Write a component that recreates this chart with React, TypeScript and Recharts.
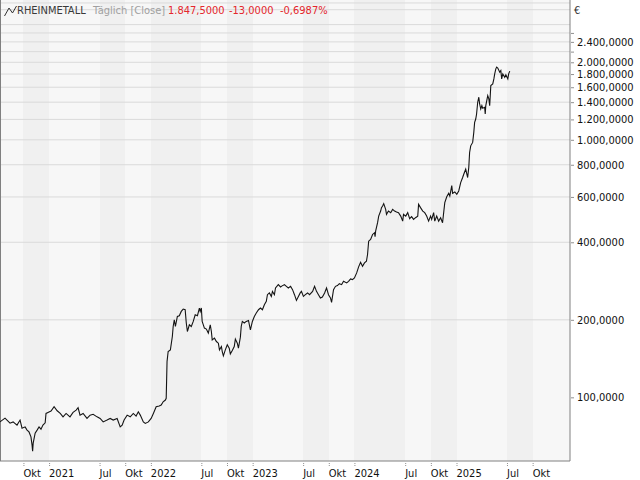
import React from 'react';
import { ComposedChart, Line, XAxis, YAxis, CartesianGrid, ReferenceLine } from 'recharts';

// ---- data ----
const dates: string[] = [
  '2020-07-09','2020-07-27','2020-08-14','2020-08-25','2020-09-08','2020-09-19','2020-09-26','2020-10-07','2020-10-14','2020-10-21',
  '2020-10-28','2020-11-01','2020-11-03','2020-11-05','2020-11-12','2020-11-19','2020-11-26','2020-12-03','2020-12-10','2020-12-18',
  '2020-12-21','2020-12-28','2021-01-08','2021-01-19','2021-01-30','2021-02-10','2021-02-20','2021-03-03','2021-03-17','2021-03-28',
  '2021-04-08','2021-04-15','2021-04-22','2021-05-03','2021-05-17','2021-05-28','2021-06-08','2021-06-22','2021-07-03','2021-07-14',
  '2021-07-28','2021-08-08','2021-08-19','2021-09-02','2021-09-13','2021-09-20','2021-09-27','2021-10-08','2021-10-19','2021-10-30',
  '2021-11-09','2021-11-17','2021-11-24','2021-12-05','2021-12-12','2021-12-23','2022-01-02','2022-01-10','2022-01-20','2022-01-31',
  '2022-02-07','2022-02-14','2022-02-22','2022-02-25','2022-02-28','2022-03-04','2022-03-12','2022-03-19','2022-03-22','2022-03-26',
  '2022-03-30','2022-04-06','2022-04-13','2022-04-20','2022-04-27','2022-05-04','2022-05-08','2022-05-12','2022-05-19','2022-05-26',
  '2022-06-02','2022-06-09','2022-06-17','2022-06-24','2022-06-27','2022-07-01','2022-07-04','2022-07-12','2022-07-19','2022-07-26',
  '2022-08-02','2022-08-06','2022-08-09','2022-08-17','2022-08-24','2022-08-31','2022-09-04','2022-09-11','2022-09-14','2022-09-18',
  '2022-09-25','2022-10-02','2022-10-09','2022-10-13','2022-10-20','2022-10-27','2022-10-31','2022-11-07','2022-11-11','2022-11-18',
  '2022-11-21','2022-11-25','2022-12-02','2022-12-09','2022-12-17','2022-12-24','2022-12-31','2023-01-07','2023-01-14','2023-01-22',
  '2023-01-29','2023-02-05','2023-02-12','2023-02-19','2023-02-23','2023-03-02','2023-03-09','2023-03-13','2023-03-20','2023-03-24',
  '2023-04-03','2023-04-11','2023-04-18','2023-04-25','2023-05-02','2023-05-09','2023-05-17','2023-05-24','2023-05-31','2023-06-07',
  '2023-06-14','2023-06-21','2023-06-25','2023-07-02','2023-07-09','2023-07-17','2023-07-24','2023-08-04','2023-08-11','2023-08-18',
  '2023-08-25','2023-09-01','2023-09-08','2023-09-16','2023-09-23','2023-09-30','2023-10-07','2023-10-11','2023-10-18','2023-10-25',
  '2023-11-01','2023-11-08','2023-11-16','2023-11-23','2023-12-04','2023-12-11','2023-12-18','2023-12-25','2024-01-01','2024-01-09',
  '2024-01-16','2024-01-23','2024-01-30','2024-02-06','2024-02-13','2024-02-17','2024-02-21','2024-02-28','2024-03-06','2024-03-13',
  '2024-03-15','2024-03-17','2024-03-24','2024-03-28','2024-04-04','2024-04-07','2024-04-11','2024-04-15','2024-04-22','2024-04-25',
  '2024-05-02','2024-05-10','2024-05-17','2024-05-24','2024-05-31','2024-06-07','2024-06-15','2024-06-22','2024-06-25','2024-07-03',
  '2024-07-10','2024-07-17','2024-07-24','2024-07-31','2024-08-07','2024-08-15','2024-08-18','2024-08-25','2024-09-02','2024-09-09',
  '2024-09-16','2024-09-23','2024-09-30','2024-10-04','2024-10-11','2024-10-15','2024-10-22','2024-10-29','2024-11-05','2024-11-12',
  '2024-11-16','2024-11-20','2024-11-27','2024-12-04','2024-12-08','2024-12-15','2024-12-18','2024-12-26','2025-01-02','2025-01-09',
  '2025-01-16','2025-01-23','2025-01-27','2025-02-03','2025-02-10','2025-02-14','2025-02-17','2025-02-21','2025-02-28','2025-03-04',
  '2025-03-07','2025-03-11','2025-03-14','2025-03-18','2025-03-22','2025-03-25','2025-03-29','2025-04-02','2025-04-05','2025-04-12',
  '2025-04-14','2025-04-16','2025-04-23','2025-04-27','2025-04-30','2025-05-04','2025-05-11','2025-05-15','2025-05-18','2025-05-22',
  '2025-05-25','2025-05-29','2025-06-05','2025-06-09','2025-06-12','2025-06-16','2025-06-23','2025-06-27','2025-07-04','2025-07-07',
  '2025-07-11',
];

const closes: number[] = [
  80.3, 83.0, 79.4, 80.3, 78.0, 81.6, 75.9, 76.8, 74.6, 73.4,
  70.2, 65.2, 61.8, 66.4, 72.6, 74.6, 76.8, 75.2, 78.0, 79.6,
  86.6, 87.4, 88.4, 91.9, 88.7, 86.6, 84.0, 86.6, 84.0, 87.4,
  89.2, 91.1, 85.3, 86.6, 82.8, 85.3, 85.9, 84.0, 82.8, 80.3,
  81.6, 82.8, 81.6, 82.8, 76.8, 78.0, 81.6, 85.3, 84.0, 86.6,
  84.6, 87.9, 85.3, 80.3, 79.2, 80.3, 82.8, 86.6, 91.9, 92.5,
  93.3, 96.1, 97.6, 99.1, 137.6, 150.6, 152.9, 172.3, 188.4, 200.1,
  188.4, 206.1, 207.4, 215.6, 220.2, 218.9, 194.3, 180.2, 191.3, 188.4,
  197.1, 209.3, 207.4, 222.2, 215.6, 222.2, 197.1, 185.7, 184.1, 177.6,
  191.3, 180.2, 167.2, 169.8, 164.7, 162.3, 152.9, 157.5, 150.6, 144.9,
  152.9, 159.9, 155.2, 147.5, 151.9, 157.5, 168.3, 162.3, 155.2, 171.3,
  188.4, 197.1, 194.3, 197.1, 198.8, 182.9, 197.1, 206.1, 212.5, 218.9,
  222.2, 218.9, 228.9, 235.8, 250.4, 254.3, 246.6, 257.9, 250.4, 265.9,
  273.9, 268.3, 271.5, 273.9, 269.8, 265.9, 269.8, 261.9, 250.4, 237.9,
  246.6, 255.0, 257.9, 246.6, 250.4, 254.3, 250.4, 257.9, 269.8, 257.9,
  250.4, 243.1, 245.3, 254.3, 265.9, 250.4, 243.1, 233.7, 261.9, 269.8,
  271.5, 276.4, 273.9, 282.2, 278.1, 282.2, 288.3, 286.5, 290.9, 304.2,
  321.1, 334.6, 322.8, 332.8, 337.6, 358.6, 404.0, 410.2, 429.0, 435.6,
  420.3, 441.9, 476.5, 505.6, 528.8, 545.2, 553.1, 565.1, 536.9, 513.4,
  528.8, 521.2, 536.9, 528.8, 524.1, 521.2, 505.6, 483.4, 513.4, 505.6,
  521.2, 493.9, 502.8, 490.8, 498.4, 505.6, 561.5, 545.2, 528.8, 521.2,
  505.6, 483.4, 505.6, 490.8, 521.2, 483.4, 505.6, 483.4, 498.4, 476.5,
  521.2, 570.2, 600.6, 619.8, 605.0, 664.1, 619.8, 627.1, 614.3, 632.8,
  682.3, 713.7, 735.0, 768.8, 713.7, 780.5, 893.0, 947.5, 976.8, 1068.5,
  1168.8, 1204, 1259, 1399, 1463, 1377, 1317, 1357, 1325, 1337,
  1259, 1357, 1484, 1441, 1357, 1623, 1648, 1724, 1803, 1886,
  1915, 1898, 1831, 1857, 1724, 1803, 1750, 1787, 1724, 1803,
  1847.5,
];

const xTickDates: string[] = [
  '2020-10-01','2021-01-01','2021-07-01','2021-10-01','2022-01-01','2022-07-01','2022-10-01','2023-01-01',
  '2023-07-01','2023-10-01','2024-01-01','2024-07-01','2024-10-01','2025-01-01','2025-07-01','2025-10-01',
];
const xDomainDates: string[] = ['2020-07-09', '2026-02-12'];
const monthLabels: Record<number, string> = { 6: 'Jul', 9: 'Okt' };

const yTickValues: number[] = [100, 200, 400, 600, 800, 1000, 1200, 1400, 1600, 1800, 2000, 2200, 2400, 2600];
const yLabelValues: number[] = [100, 200, 400, 600, 800, 1000, 1200, 1400, 1600, 1800, 2000, 2400];
const gridValues: number[] = [200, 400, 600, 800, 1000, 1200, 1400, 1600, 1800, 2000, 2200, 2400, 2600, 2800, 3200, 3400];
const yDomain: number[] = [56.6, 3490];

const titleName = 'RHEINMETALL';
const titlePeriod = 'Täglich [Close]';
const titleLast = '1.847,5000';
const titleChange = '-13,0000';
const titleChangePct = '-0,6987%';
const currency = '€';

// ---- derived ----
const data = dates.map((d, i) => ({ t: Date.parse(d), v: closes[i] }));
const xTicks = xTickDates.map((d) => Date.parse(d));
const xDomain = xDomainDates.map((d) => Date.parse(d));

const FONT = "'DejaVu Sans Condensed', 'Liberation Sans Narrow', 'DejaVu Sans', sans-serif";

const fmtX = (ts: number) => {
  const d = new Date(ts);
  const m = d.getUTCMonth();
  if (m === 0) return String(d.getUTCFullYear());
  return monthLabels[m] || '';
};

const fmtY = (v: number) => {
  const s = Math.round(v).toString().replace(/\B(?=(\d{3})+(?!\d))/g, '.');
  return s + ',0000';
};

const XTick = (props: any) => {
  const { x, y, payload } = props;
  return (
    <g>
      <line x1={x + 0.5} x2={x + 0.5} y1={y + 2} y2={y + 6} stroke="#909090" strokeDasharray="1 1" />
      <text x={x} y={y + 16} textAnchor="start" fontSize={11} fontFamily={FONT} fill="#111">
        {fmtX(payload.value)}
      </text>
    </g>
  );
};

const YTick = (props: any) => {
  const { x, y, payload } = props;
  const labeled = yLabelValues.includes(payload.value);
  return (
    <g>
      <line x1={x + 1} x2={x + 4} y1={y + 0.5} y2={y + 0.5} stroke="#909090" />
      {labeled && (
        <text x={x + 7} y={y + 4} textAnchor="start" fontSize={11} fontFamily={FONT} fill="#111">
          {fmtY(payload.value)}
        </text>
      )}
    </g>
  );
};

export default function App() {
  return (
    <div style={{ position: 'absolute', left: 0, top: 0, width: 640, height: 480, background: '#fff' }}>
      <ComposedChart width={640} height={480} data={data} margin={{ top: 0, right: 0, bottom: 0, left: 0 }}>
        <CartesianGrid
          horizontal={false}
          vertical
          verticalValues={xTicks}
          verticalFill={['#f7f7f7', '#f0f0f0']}
          stroke="transparent"
        />
        <CartesianGrid vertical={false} horizontal horizontalValues={gridValues} stroke="#dadada" />
        <XAxis
          dataKey="t"
          type="number"
          scale="linear"
          domain={xDomain}
          allowDataOverflow
          ticks={xTicks}
          interval={0}
          height={19}
          tickSize={0}
          tickMargin={0}
          tickLine={false}
          axisLine={{ stroke: '#808080' }}
          tick={<XTick />}
        />
        <YAxis
          orientation="right"
          type="number"
          scale="log"
          domain={yDomain}
          allowDataOverflow
          ticks={yTickValues}
          interval={0}
          width={70}
          tickSize={0}
          tickMargin={0}
          tickLine={false}
          axisLine={{ stroke: '#808080' }}
          tick={<YTick />}
        />
        <ReferenceLine x={xDomain[0]} stroke="#808080" strokeWidth={2} ifOverflow="visible" />
        <Line
          type="linear"
          dataKey="v"
          stroke="#141414"
          strokeWidth={1.1}
          dot={false}
          isAnimationActive={false}
        />
      </ComposedChart>
      <svg width={640} height={22} style={{ position: 'absolute', left: 0, top: 0 }}>
        <polyline points="4.5,16 9,8 12.5,13 16.5,6" fill="none" stroke="#333" strokeWidth={1} />
        <text x={17} y={14} fontSize={11} fontFamily={FONT} fill="#3a3a3a">{titleName}</text>
        <text x={93} y={14} fontSize={11} fontFamily={FONT} fill="#a0a0a0">{titlePeriod}</text>
        <text x={168} y={14} fontSize={11} fontFamily={FONT} fill="#e4262c">{titleLast}</text>
        <text x={229} y={14} fontSize={11} fontFamily={FONT} fill="#e4262c">{titleChange}</text>
        <text x={280} y={14} fontSize={11} fontFamily={FONT} fill="#e4262c">{titleChangePct}</text>
        <text x={574} y={14} fontSize={11} fontFamily={FONT} fill="#333">{currency}</text>
      </svg>
    </div>
  );
}
